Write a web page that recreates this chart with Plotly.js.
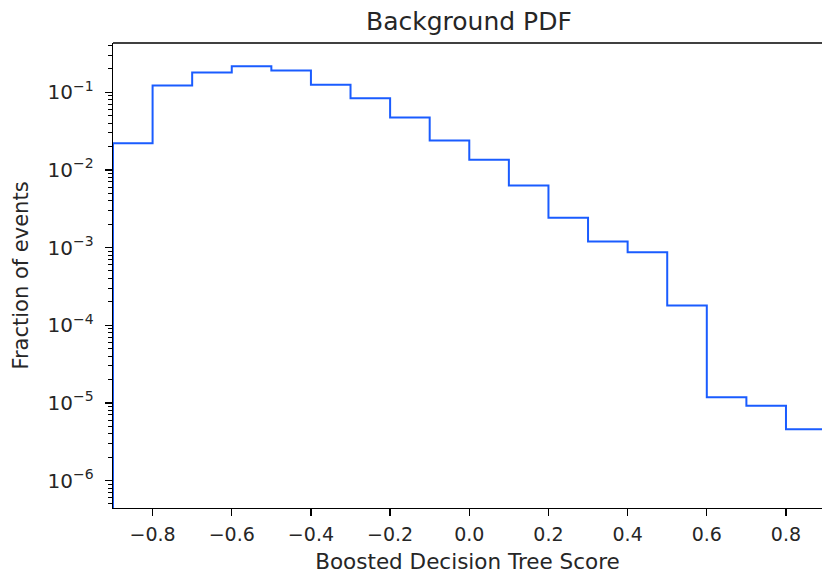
<!DOCTYPE html>
<html>
<head>
<meta charset="utf-8">
<script src="https://cdn.plot.ly/plotly-3.0.1.min.js"></script>
<style>
html,body{margin:0;padding:0;background:#fff;overflow:hidden;}
#chart{width:822px;height:575px;}
</style>
</head>
<body>
<div id="chart"></div>
<script>
// Bin edges of the histogram (Boosted Decision Tree Score)
var binEdges = [-0.9, -0.8, -0.7, -0.6, -0.5, -0.4, -0.3, -0.2, -0.1, 0.0,
                0.1, 0.2, 0.3, 0.4, 0.5, 0.6, 0.7, 0.8, 0.9];
// Fraction of events in each bin
var fractions = [0.0220, 0.122, 0.180, 0.216, 0.190, 0.1245, 0.0837, 0.0472, 0.0239,
                 0.0135, 0.0063, 0.00242, 0.00120, 0.00087, 0.000179, 1.18e-5, 9.2e-6, 4.58e-6];
// Y tick values and labels
var yTickVals = [1e-1, 1e-2, 1e-3, 1e-4, 1e-5, 1e-6];
var yTickText = ['10<sup>−1</sup>', '10<sup>−2</sup>', '10<sup>−3</sup>',
                 '10<sup>−4</sup>', '10<sup>−5</sup>', '10<sup>−6</sup>'];
var xTickVals = [-0.8, -0.6, -0.4, -0.2, 0.0, 0.2, 0.4, 0.6, 0.8];
var xTickText = ['−0.8', '−0.6', '−0.4', '−0.2', '0.0', '0.2', '0.4', '0.6', '0.8'];

// Build a step outline (histtype="step"): starts and ends at zero (off the log scale)
var floorVal = 1e-12;
var xs = [binEdges[0]];
var ys = [floorVal];
for (var i = 0; i < fractions.length; i++) {
  xs.push(binEdges[i]); ys.push(fractions[i]);
  xs.push(binEdges[i + 1]); ys.push(fractions[i]);
}
xs.push(binEdges[binEdges.length - 1]); ys.push(floorVal);

var font = 'DejaVu Sans, Verdana, sans-serif';

var trace = {
  type: 'scatter', mode: 'lines', x: xs, y: ys,
  line: {color: '#1a5cff', width: 2},
  hoverinfo: 'x+y', showlegend: false
};

var layout = {
  width: 822, height: 575,
  margin: {l: 113, r: 0, t: 43, b: 67, pad: 0},
  paper_bgcolor: '#ffffff', plot_bgcolor: '#ffffff',
  font: {family: font, color: '#262626'},
  title: {text: 'Background PDF', font: {family: font, size: 25, color: '#262626'},
          x: 0.502, xref: 'paper', xanchor: 'center', y: 1 - 21 / 575, yref: 'container', yanchor: 'middle'},
  xaxis: {
    type: 'linear', range: [-0.9, 0.891], autorange: false,
    tickmode: 'array', tickvals: xTickVals, ticktext: xTickText,
    ticks: 'outside', ticklen: 7, tickwidth: 1.3, tickcolor: '#000',
    tickfont: {family: font, size: 19, color: '#262626'},
    showgrid: false, zeroline: false,
    showline: true, linecolor: '#000', linewidth: 1.3, mirror: false,
    ticklabelstandoff: 2,
    title: {text: 'Boosted Decision Tree Score', font: {family: font, size: 21.5, color: '#262626'}, standoff: 10}
  },
  yaxis: {
    type: 'log', range: [-6.354, -0.366], autorange: false,
    tickmode: 'array', tickvals: yTickVals, ticktext: yTickText,
    ticks: 'outside', ticklen: 7, tickwidth: 1.3, tickcolor: '#000',
    tickfont: {family: font, size: 20, color: '#262626'},
    minor: {ticks: 'outside', ticklen: 4, tickwidth: 1, tickcolor: '#000', dtick: 'D1', showgrid: false},
    showgrid: false, zeroline: false,
    showline: true, linecolor: '#000', linewidth: 1.3, mirror: false,
    ticklabelstandoff: 7,
    title: {text: 'Fraction of events', font: {family: font, size: 21, color: '#262626'}, standoff: 13}
  },
  shapes: [
    {type: 'line', xref: 'paper', yref: 'paper', x0: 0, x1: 1, y0: 1, y1: 1,
     line: {color: '#000', width: 1.3}}
  ]
};

Plotly.newPlot('chart', [trace], layout, {displayModeBar: false, staticPlot: true});
</script>
</body>
</html>
